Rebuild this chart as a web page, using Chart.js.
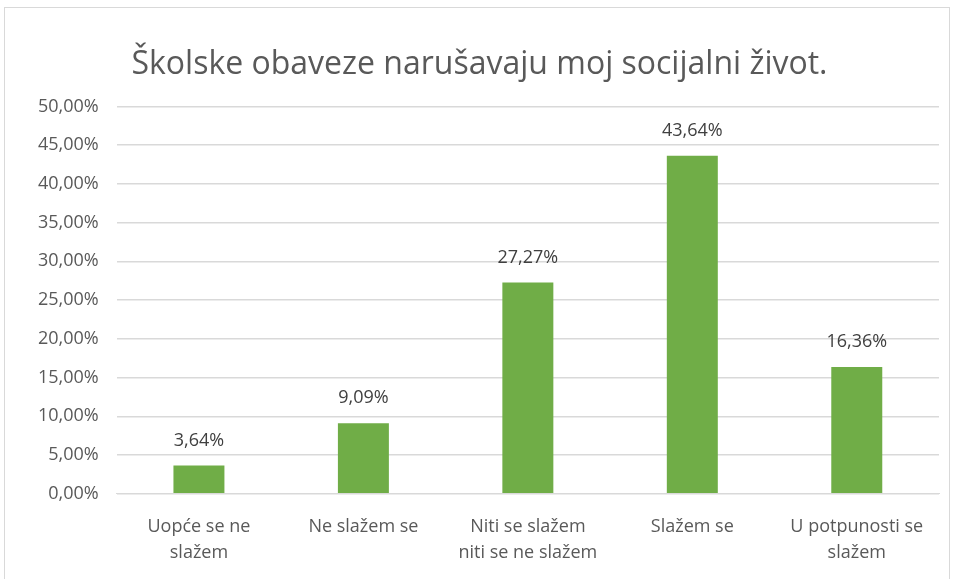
<!DOCTYPE html>
<html>
<head>
<meta charset="utf-8">
<script src="https://cdn.jsdelivr.net/npm/chart.js@4.4.0/dist/chart.umd.min.js"></script>
<style>
  html, body { margin:0; padding:0; background:#fff; }
  #frame { position:absolute; left:4px; top:7px; width:946px; height:600px; border:1px solid #d9d9d9; box-sizing:border-box; }
  #wrap { position:absolute; left:0; top:0; width:953px; height:579px; }
</style>
</head>
<body>
<div id="frame"></div>
<div id="wrap"><canvas id="c"></canvas></div>
<script>
// podaci
const TITLE = "Školske obaveze narušavaju moj socijalni život.";
const CATEGORIES = [
  ["Uopće se ne", "slažem"],
  ["Ne slažem se"],
  ["Niti se slažem", "niti se ne slažem"],
  ["Slažem se"],
  ["U potpunosti se", "slažem"]
];
const VALUES = [3.64, 9.09, 27.27, 43.64, 16.36];
const Y_MIN = 0, Y_MAX = 50, Y_STEP = 5;

const fmtPct = v => v.toFixed(2).replace(".", ",") + "%";

// oznake iznad stupaca
const barLabels = {
  id: "barLabels",
  afterDatasetsDraw(chart){
    const ctx = chart.ctx;
    const meta = chart.getDatasetMeta(0);
    ctx.save();
    ctx.font = "18px 'Open Sans'";
    ctx.fillStyle = "#404040";
    ctx.textAlign = "center";
    ctx.textBaseline = "alphabetic";
    meta.data.forEach((bar, i) => {
      ctx.fillText(fmtPct(VALUES[i]), bar.x, bar.y - 20);
    });
    ctx.restore();
  }
};

new Chart(document.getElementById("c"), {
  type: "bar",
  data: {
    labels: CATEGORIES,
    datasets: [{
      data: VALUES,
      backgroundColor: "#70ad47",
      categoryPercentage: 1,
      barPercentage: 0.31
    }]
  },
  options: {
    responsive: true, maintainAspectRatio: false, animation: false,
    layout: { padding: { left: 20, right: 14, top: 46, bottom: 1 } },
    plugins: {
      legend: { display: false },
      tooltip: { enabled: false },
      title: {
        display: true, text: TITLE, color: "#595959",
        font: { family: "'Open Sans'", size: 32, weight: "normal" },
        padding: { top: 0, bottom: 22 }
      }
    },
    scales: {
      x: {
        grid: { display: false },
        border: { color: "#d9d9d9" },
        ticks: { color: "#595959", font: { family: "'Open Sans'", size: 18, lineHeight: 1.45 }, maxRotation: 0, padding: 12 }
      },
      y: {
        min: Y_MIN, max: Y_MAX,
        grid: { color: "#d9d9d9", lineWidth: 1.5, drawTicks: false },
        border: { display: false },
        ticks: { stepSize: Y_STEP, color: "#595959", font: { family: "'Open Sans'", size: 18 }, padding: 18,
          callback: v => fmtPct(v) }
      }
    }
  },
  plugins: [barLabels]
});
</script>
</body>
</html>
